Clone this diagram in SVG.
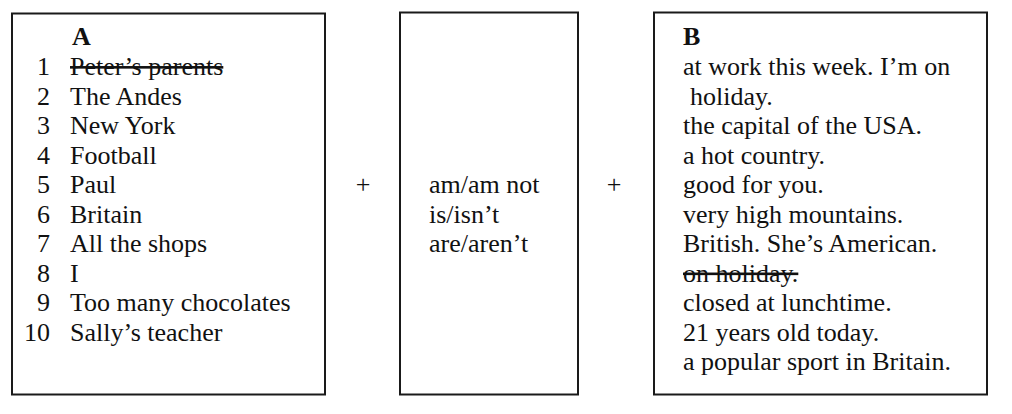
<svg xmlns="http://www.w3.org/2000/svg" width="1012" height="414" viewBox="0 0 1012 414">
<style>
text{font-family:"Liberation Serif","Times New Roman",serif;font-size:26px;fill:#111}
.h{font-weight:bold}
.n{text-anchor:end}
.s{text-decoration:line-through}
.box{fill:#fff;stroke:#1a1a1a;stroke-width:2}
</style>
<rect width="1012" height="414" fill="#fff"/>
<g id="boxA">
<rect class="box" x="12" y="13.5" width="313" height="381"/>
<text class="h" x="72" y="45">A</text>
<text class="n" x="50" y="75">1</text><text class="s" x="70" y="75">Peter’s parents</text>
<text class="n" x="50" y="104.5">2</text><text x="70" y="104.5">The Andes</text>
<text class="n" x="50" y="134">3</text><text x="70" y="134">New York</text>
<text class="n" x="50" y="163.5">4</text><text x="70" y="163.5">Football</text>
<text class="n" x="50" y="193">5</text><text x="70" y="193">Paul</text>
<text class="n" x="50" y="222.5">6</text><text x="70" y="222.5">Britain</text>
<text class="n" x="50" y="252">7</text><text x="70" y="252">All the shops</text>
<text class="n" x="50" y="281.5">8</text><text x="70" y="281.5">I</text>
<text class="n" x="50" y="311">9</text><text x="70" y="311">Too many chocolates</text>
<text class="n" x="50" y="340.5">10</text><text x="70" y="340.5">Sally’s teacher</text>
</g>
<g id="plus1"><text x="363" y="193" text-anchor="middle">+</text></g>
<g id="boxMid">
<rect class="box" x="400" y="12.5" width="178" height="382"/>
<text x="429" y="193">am/am not</text>
<text x="429" y="222.5">is/isn’t</text>
<text x="429" y="252">are/aren’t</text>
</g>
<g id="plus2"><text x="614" y="193" text-anchor="middle">+</text></g>
<g id="boxB">
<rect class="box" x="654" y="12.5" width="333" height="382"/>
<text class="h" x="683" y="45">B</text>
<text x="683" y="75">at work this week. I’m on</text>
<text x="690" y="104.5">holiday.</text>
<text x="683" y="134">the capital of the USA.</text>
<text x="683" y="163.5">a hot country.</text>
<text x="683" y="193">good for you.</text>
<text x="683" y="222.5">very high mountains.</text>
<text x="683" y="252">British. She’s American.</text>
<text class="s" x="683" y="281.5">on holiday.</text>
<text x="683" y="311">closed at lunchtime.</text>
<text x="683" y="340.5">21 years old today.</text>
<text x="683" y="370">a popular sport in Britain.</text>
</g>
<g id="connectors"></g>
</svg>
